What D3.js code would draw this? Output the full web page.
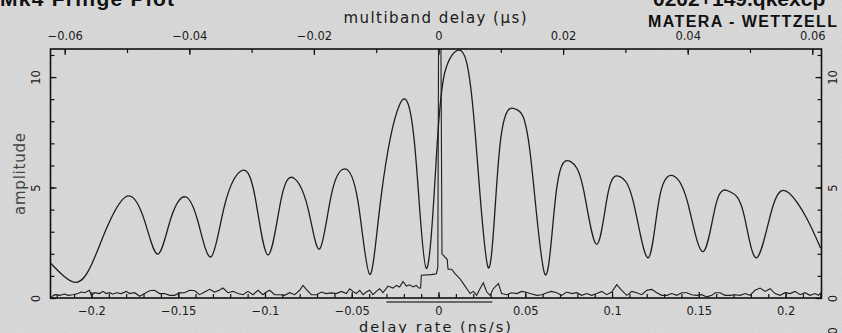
<!DOCTYPE html>
<html>
<head>
<meta charset="utf-8">
<script src="https://cdn.jsdelivr.net/npm/d3@7"></script>
<style>
  html, body { margin: 0; padding: 0; background: #d7d7d7; }
  svg { display: block; }
  .tick text { font-family: "DejaVu Sans", sans-serif; font-size: 11.5px; fill: #1a1a1a; }
  .tick line { stroke: #111; stroke-width: 1.2; }
</style>
</head>
<body>
<div id="chart"></div>
<script>
// multiband delay function (top axis, microseconds)
const mbdDelay = [-0.06225,-0.0584,-0.05573,-0.05305,-0.04984,-0.04716,-0.04502,-0.04294,-0.04064,-0.0386,
  -0.03647,-0.03432,-0.03165,-0.0295,-0.02737,-0.02523,-0.02319,-0.02095,-0.01907,-0.01721,
  -0.01506,-0.01292,-0.01104,-0.00918,-0.00623,-0.00382,-0.00196,-0.00029,0.00104,0.00334,
  0.00559,0.00799,0.00987,0.01244,0.01469,0.01709,0.01897,0.02122,0.02324,0.02539,
  0.02726,0.02913,0.03127,0.03368,0.03555,0.03796,0.0401,0.0425,0.04465,0.04679,
  0.04892,0.05108,0.05374,0.05631,0.0591,0.06135];
const mbdAmp = [1.57,0.71,1.49,3.30,4.62,3.48,1.99,3.62,4.58,3.45,
  1.87,4.21,5.76,4.66,1.95,4.51,5.42,4.06,2.22,4.66,
  5.84,4.36,1.07,4.66,8.76,6.92,1.34,6.62,10.24,11.22,
  8.43,1.37,6.92,8.54,6.62,1.07,4.96,6.17,4.96,2.43,
  4.81,5.49,4.36,1.82,4.66,5.49,4.21,2.10,4.36,4.81,
  3.90,1.82,4.21,4.74,3.61,2.25];

// delay rate spectrum (bottom axis, ns/s)
const rateX = [-0.2231,-0.2212,-0.2183,-0.2155,-0.2135,-0.2107,-0.2078,-0.2059,-0.2039,-0.2011,
  -0.2001,-0.1982,-0.1953,-0.1934,-0.1915,-0.1895,-0.1876,-0.1857,-0.1828,-0.1799,
  -0.178,-0.1751,-0.1722,-0.1694,-0.1665,-0.1636,-0.1607,-0.1578,-0.1549,-0.1521,
  -0.1492,-0.1463,-0.1434,-0.1405,-0.1377,-0.1348,-0.1319,-0.129,-0.1261,-0.1242,
  -0.1213,-0.1184,-0.1156,-0.1127,-0.1098,-0.1069,-0.104,-0.1012,-0.0992,-0.0973,
  -0.0944,-0.0915,-0.0887,-0.0858,-0.0829,-0.08,-0.0781,-0.0762,-0.0733,-0.0704,
  -0.0675,-0.0647,-0.0618,-0.0589,-0.056,-0.0531,-0.0512,-0.0493,-0.0474,-0.0454,
  -0.0435,-0.0416,-0.0397,-0.0378,-0.0358,-0.0339,-0.032,-0.0291,-0.0262,-0.0243,
  -0.0224,-0.0205,-0.0185,-0.0166,-0.0147,-0.0128,-0.0114,-0.0103,-0.0099,-0.0041,
  -0.0012,-0.0004,0.0,0.0014,0.002,0.0032,0.005,0.0055,0.0076,0.0095,
  0.0124,0.0143,0.0163,0.0182,0.0201,0.022,0.0239,0.0258,0.0278,0.0297,
  0.0316,0.0345,0.0364,0.0393,0.0422,0.0451,0.048,0.0499,0.0527,0.0566,
  0.0595,0.0624,0.0652,0.0681,0.071,0.0739,0.0768,0.0797,0.0825,0.0854,
  0.0883,0.0912,0.0941,0.0969,0.0998,0.1027,0.1056,0.1085,0.1114,0.1142,
  0.1171,0.12,0.1229,0.1258,0.1286,0.1315,0.1344,0.1373,0.1402,0.1431,
  0.1459,0.1488,0.1517,0.1546,0.1575,0.1594,0.1622,0.1651,0.168,0.1709,
  0.1738,0.1767,0.1795,0.1824,0.1853,0.1882,0.1911,0.1939,0.1968,0.1997,
  0.2026,0.2055,0.2084,0.2112,0.2141,0.217,0.2189,0.2203];
const rateAmp = [0.05,0.15,0.12,0.18,0.12,0.15,0.20,0.27,0.24,0.35,
  0.12,0.24,0.20,0.30,0.20,0.24,0.17,0.24,0.20,0.30,
  0.20,0.24,0.08,0.20,0.33,0.35,0.20,0.20,0.12,0.12,
  0.23,0.24,0.35,0.33,0.15,0.27,0.39,0.27,0.36,0.45,
  0.24,0.30,0.20,0.15,0.30,0.15,0.35,0.15,0.27,0.35,
  0.15,0.15,0.12,0.24,0.15,0.35,0.57,0.39,0.15,0.15,
  0.27,0.20,0.23,0.20,0.30,0.20,0.42,0.30,0.20,0.35,
  0.15,0.27,0.35,0.15,0.30,0.42,0.24,0.54,0.45,0.57,
  0.50,0.75,0.54,0.60,0.50,0.57,0.45,0.45,1.03,1.06,
  1.10,1.40,11.3,11.3,2.0,1.9,1.75,1.3,1.3,1.1,
  0.87,0.65,0.42,0.20,0.30,0.12,0.42,0.69,0.27,0.12,
  0.42,0.65,0.20,0.15,0.24,0.20,0.30,0.27,0.20,0.12,
  0.15,0.24,0.30,0.24,0.12,0.27,0.20,0.24,0.12,0.20,
  0.12,0.20,0.30,0.15,0.27,0.60,0.35,0.12,0.30,0.24,
  0.15,0.35,0.39,0.24,0.12,0.12,0.20,0.12,0.24,0.24,
  0.15,0.12,0.15,0.05,0.12,0.24,0.24,0.12,0.12,0.15,
  0.12,0.20,0.12,0.35,0.45,0.30,0.42,0.20,0.12,0.24,
  0.20,0.30,0.15,0.24,0.12,0.20,0.12,0.24];

// axis ticks
const topTicks = [-0.06,-0.04,-0.02,0,0.02,0.04,0.06];
const bottomTicks = [-0.2,-0.15,-0.1,-0.05,0,0.05,0.1,0.15,0.2];
const ampTicks = [0,5,10];
const searchWindow = [-0.03, 0.031];

const width = 842, height = 333;
const L = 50.5, R = 821.5, T = 49, B = 298;

const svg = d3.select("#chart").append("svg")
  .attr("width", width).attr("height", height);

// speckled grey paper
const defs = svg.append("defs");
const f = defs.append("filter").attr("id", "grain").attr("x", 0).attr("y", 0).attr("width", 1).attr("height", 1);
f.append("feTurbulence").attr("type", "fractalNoise").attr("baseFrequency", 0.9).attr("numOctaves", 1).attr("seed", 3);
f.append("feColorMatrix").attr("type", "matrix")
  .attr("values", "0 0 0 0 0.45  0 0 0 0 0.45  0 0 0 0 0.45  0 0 0 -1.1 0.75");
f.append("feComposite").attr("in2", "SourceGraphic").attr("operator", "over");
svg.append("rect").attr("width", width).attr("height", height).attr("fill", "#dadada");
svg.append("rect").attr("width", width).attr("height", height).attr("fill", "#dadada")
  .attr("filter", "url(#grain)").attr("opacity", 0.4);

defs.append("clipPath").attr("id", "plotclip")
  .append("rect").attr("x", L).attr("y", T).attr("width", R - L).attr("height", B - T);

// scales
const xMbd = d3.scaleLinear().domain([-0.06228, 0.06148]).range([L, R]);
const xRate = d3.scaleLinear().domain([-0.2236, 0.2207]).range([L, R]);
const y = d3.scaleLinear().domain([0, 11.27]).range([B, T]);

const fmt = d3.format("~g");

// minor ticks
svg.append("g").attr("transform", `translate(0,${T})`)
  .call(d3.axisTop(xMbd).tickValues(d3.range(-6, 7).map(d => d / 100)).tickFormat("").tickSizeInner(-4).tickSizeOuter(0))
  .call(g => g.select(".domain").remove());
svg.append("g").attr("transform", `translate(0,${B})`)
  .call(d3.axisBottom(xRate).tickValues(d3.range(-22, 23).map(d => d / 100)).tickFormat("").tickSizeInner(-4).tickSizeOuter(0))
  .call(g => g.select(".domain").remove());
svg.append("g").attr("transform", `translate(${L},0)`)
  .call(d3.axisLeft(y).tickValues(d3.range(0, 12)).tickFormat("").tickSizeInner(-4).tickSizeOuter(0))
  .call(g => g.select(".domain").remove());
svg.append("g").attr("transform", `translate(${R},0)`)
  .call(d3.axisRight(y).tickValues(d3.range(0, 12)).tickFormat("").tickSizeInner(-4).tickSizeOuter(0))
  .call(g => g.select(".domain").remove());

// major ticks + labels
svg.append("g").attr("transform", `translate(0,${T})`)
  .call(d3.axisTop(xMbd).tickValues(topTicks).tickFormat(fmt).tickSizeInner(-6).tickSizeOuter(0).tickPadding(9))
  .call(g => g.select(".domain").remove());
svg.append("g").attr("transform", `translate(0,${B})`)
  .call(d3.axisBottom(xRate).tickValues(bottomTicks).tickFormat(fmt).tickSizeInner(-6).tickSizeOuter(0).tickPadding(9))
  .call(g => g.select(".domain").remove());
svg.append("g").attr("transform", `translate(${L},0)`)
  .call(d3.axisLeft(y).tickValues(ampTicks).tickFormat(fmt).tickSizeInner(-6).tickSizeOuter(0))
  .call(g => g.select(".domain").remove())
  .call(g => g.selectAll(".tick text").attr("x", null).attr("dy", null)
    .attr("text-anchor", "middle").attr("transform", "translate(-11,0) rotate(-90)"));
svg.append("g").attr("transform", `translate(${R},0)`)
  .call(d3.axisRight(y).tickValues(ampTicks).tickFormat(fmt).tickSizeInner(-6).tickSizeOuter(0))
  .call(g => g.select(".domain").remove())
  .call(g => g.selectAll(".tick text").attr("x", null).attr("dy", null)
    .attr("text-anchor", "middle").attr("transform", "translate(15,0) rotate(-90)"));

// curves
const plot = svg.append("g").attr("clip-path", "url(#plotclip)");
plot.append("path")
  .datum(d3.zip(mbdDelay, mbdAmp))
  .attr("fill", "none").attr("stroke", "#1e1e1e").attr("stroke-width", 1.3)
  .attr("d", d3.line().x(d => xMbd(d[0])).y(d => y(d[1])).curve(d3.curveNatural));
plot.append("path")
  .datum(d3.zip(rateX, rateAmp))
  .attr("fill", "none").attr("stroke", "#1e1e1e").attr("stroke-width", 1.1)
  .attr("d", d3.line().x(d => xRate(d[0])).y(d => y(d[1])));

// frame
svg.append("rect").attr("x", L).attr("y", T).attr("width", R - L).attr("height", B - T)
  .attr("fill", "none").attr("stroke", "#111").attr("stroke-width", 1.6);

// rate search window bar
svg.append("line")
  .attr("x1", xRate(searchWindow[0])).attr("x2", xRate(searchWindow[1]))
  .attr("y1", B + 4).attr("y2", B + 4)
  .attr("stroke", "#444").attr("stroke-width", 1.6);

// texts
const thin = "DejaVu Sans, sans-serif";
const bold = "Liberation Sans, Arial, sans-serif";
svg.append("text").attr("x", (L + R) / 2 - 1).attr("y", 23)
  .attr("text-anchor", "middle").attr("font-family", thin).attr("font-size", 15).attr("fill", "#1a1a1a")
  .attr("textLength", 183).attr("lengthAdjust", "spacing")
  .text("multiband delay (\u03bcs)");
svg.append("text").attr("x", (L + R) / 2 - 1).attr("y", 332)
  .attr("text-anchor", "middle").attr("font-family", thin).attr("font-size", 14.5).attr("fill", "#1a1a1a")
  .attr("textLength", 152).attr("lengthAdjust", "spacing")
  .text("delay rate (ns/s)");
svg.append("text").attr("transform", "translate(25,174) rotate(-90)")
  .attr("text-anchor", "middle").attr("font-family", thin).attr("font-size", 15).attr("fill", "#444")
  .attr("textLength", 82).attr("lengthAdjust", "spacing")
  .text("amplitude");
svg.append("text").attr("x", 0).attr("y", 6)
  .attr("font-family", bold).attr("font-weight", "bold").attr("font-size", 21).attr("fill", "#111")
  .attr("textLength", 174).attr("lengthAdjust", "spacing")
  .text("Mk4 Fringe Plot");
svg.append("text").attr("x", 653).attr("y", 6)
  .attr("font-family", bold).attr("font-weight", "bold").attr("font-size", 21).attr("fill", "#111")
  .text("0202+149.qkexcp");
svg.append("text").attr("x", 648).attr("y", 27)
  .attr("font-family", bold).attr("font-weight", "bold").attr("font-size", 16).attr("fill", "#111")
  .attr("textLength", 189).attr("lengthAdjust", "spacing")
  .text("MATERA - WETTZELL");
svg.append("text").attr("transform", "translate(837,331) rotate(-90)")
  .attr("text-anchor", "middle").attr("font-family", thin).attr("font-size", 12).attr("fill", "#1a1a1a")
  .text("0");
</script>
</body>
</html>
